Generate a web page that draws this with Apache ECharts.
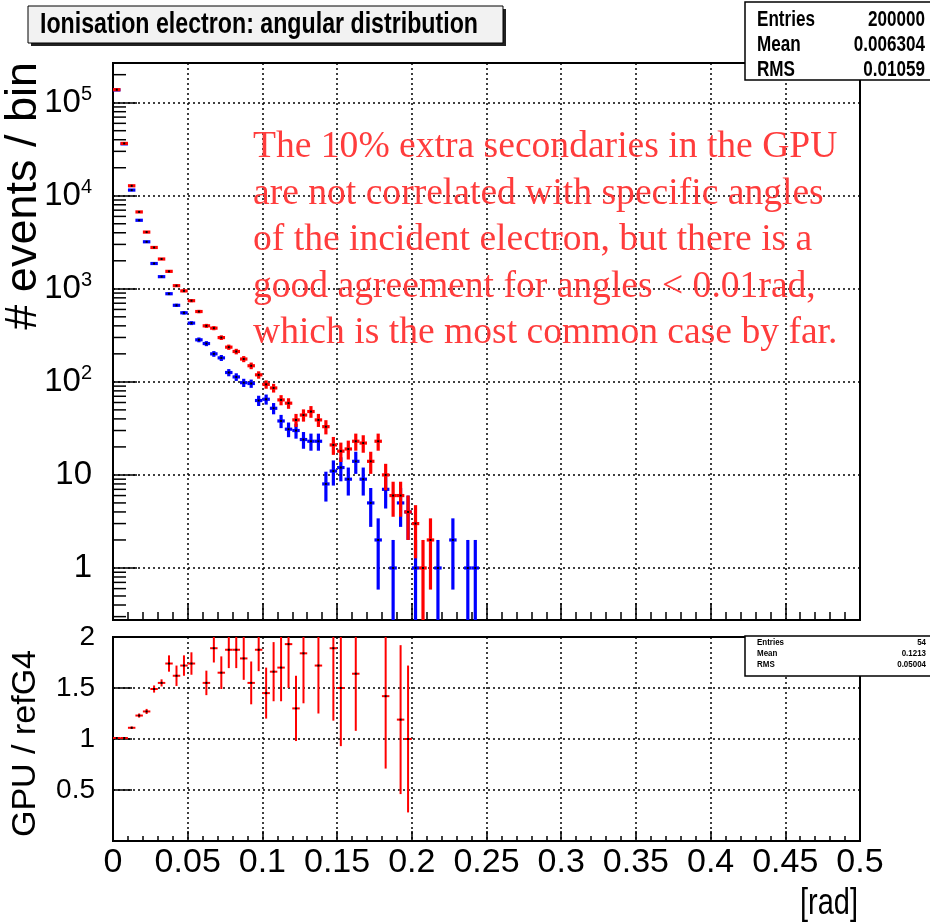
<!DOCTYPE html>
<html>
<head>
<meta charset="utf-8">
<script src="https://cdn.jsdelivr.net/npm/echarts@6/dist/echarts.min.js"></script>
<style>
  html, body { margin: 0; padding: 0; background: #fff; }
  #chart { width: 930px; height: 922px; }
</style>
</head>
<body>
<div id="chart"></div>
<script>
// Histogram data: 0.005 rad bins starting at 0
const binWidth = 0.005
// GPU (red) counts per bin
const gpuCounts = [138000, 36500, 12800, 6700, 4070, 2780, 2090, 1540, 1080, 950,
  745, 570, 400, 378, 299, 236, 212, 176, 149, 119,
  94, 86, 64, 59, 39, 44, 48, 39, 33, 21,
  18, 19, 23, 22, 14, 23, 10, 6, 6, 4,
  3, 1, 2]
// reference Geant4 (blue) counts per bin
const refCounts = [137000, 36100, 11500, 5450, 3200, 1870, 1350, 885, 665, 552,
  428, 283, 258, 200, 181, 126, 113, 98, 96, 63,
  65, 52, 38, 31, 30, 24, 23, 23, 8, 11,
  12, 9, 14, 9, 5, 2, 7, 1, 5, 4,
  1, 0, 0, 1, 0, 2, 0, 1, 1]
// GPU / refG4 ratio per bin (null = outside the 0..2 range or undefined)
const ratioValues = [1.01, 1.01, 1.11, 1.23, 1.27, 1.49, 1.55, 1.74, 1.62, 1.72,
  1.74, null, 1.55, 1.89, 1.65, 1.875, 1.875, 1.79, 1.55, 1.875,
  1.45, 1.66, 1.70, 1.93, 1.30, 1.84, null, 1.72, null, 1.89,
  1.50, null, 1.64, null, null, null, 1.42, null, 1.19, 1.00]
const ratioErrors = [0.005, 0.005, 0.012, 0.02, 0.025, 0.035, 0.035, 0.08, 0.1, 0.1,
  0.11, null, 0.12, 0.14, 0.16, 0.18, 0.18, 0.21, 0.21, 0.21,
  0.25, 0.29, 0.33, 0.43, 0.32, 0.49, null, 0.47, null, 0.71,
  0.57, null, 0.56, null, null, null, 0.71, null, 0.73, 0.72]

const statsMain = [['Entries', '200000'], ['Mean', '0.006304'], ['RMS', '0.01059']]
const statsRatio = [['Entries', '54'], ['Mean', '0.1213'], ['RMS', '0.05004']]
const noteLines = [
  'The 10% extra secondaries in the GPU',
  'are not correlated with specific angles',
  'of the incident electron, but there is a',
  'good agreement for angles < 0.01rad,',
  'which is the most common case by far.'
]

const yMin = 0.276
const yMax = 2.67e5
const SANS = "'Liberation Sans', Arial, Helvetica, sans-serif"
const SERIF = "'Liberation Serif', 'Times New Roman', serif"

// horizontal squeeze so that a text of a given font takes the wanted width
const measureCtx = document.createElement('canvas').getContext('2d')
function squeeze (text, font, wantedWidth) {
  measureCtx.font = font
  return wantedWidth / measureCtx.measureText(text).width
}

function histPoints (counts) {
  const pts = []
  counts.forEach(function (n, i) {
    if (n > 0) pts.push([(i + 0.5) * binWidth, n, Math.sqrt(n)])
  })
  return pts
}

function ratioPoints () {
  const pts = []
  ratioValues.forEach(function (r, i) {
    if (r !== null) pts.push([(i + 0.5) * binWidth, r, ratioErrors[i]])
  })
  return pts
}

// error cross: vertical error bar, horizontal bin-width bar, small black marker
function crossRenderer (color, width, lowFloor) {
  return function (params, api) {
    const x = api.value(0)
    const y = api.value(1)
    const e = api.value(2)
    const c = api.coord([x, y])
    const top = api.coord([x, y + e])
    const bot = api.coord([x, Math.max(y - e, lowFloor)])
    const left = api.coord([x - binWidth / 2, y])
    const right = api.coord([x + binWidth / 2, y])
    return {
      type: 'group',
      children: [
        { type: 'line', shape: { x1: c[0], y1: top[1], x2: c[0], y2: bot[1] }, style: { stroke: color, lineWidth: width } },
        { type: 'line', shape: { x1: left[0], y1: c[1], x2: right[0], y2: c[1] }, style: { stroke: color, lineWidth: width } },
        { type: 'rect', shape: { x: c[0] - 1, y: c[1] - 1, width: 2, height: 2 }, style: { fill: '#000' } }
      ]
    }
  }
}

// log-axis minor ticks at 2..9 x 10^k
const minorLogTicks = []
for (let k = -1; k <= 5; k++) {
  for (let m = 2; m <= 9; m++) {
    const v = m * Math.pow(10, k)
    if (v > yMin && v < yMax) minorLogTicks.push([0, v])
  }
}

function xAxisCommon (grid, showLabels, majorLen, minorLen) {
  return {
    gridIndex: grid,
    type: 'value',
    min: 0,
    max: 0.5,
    interval: 0.05,
    axisLine: { show: true, lineStyle: { color: '#000', width: 2 } },
    axisTick: { show: true, inside: true, length: majorLen, lineStyle: { color: '#000', width: 1.5 } },
    minorTick: { show: true, splitNumber: 5, length: minorLen, lineStyle: { color: '#000', width: 1.5 } },
    splitLine: { show: true, lineStyle: { color: '#000', type: [2, 3], width: 1.5 } },
    axisLabel: {
      show: showLabels,
      color: '#000',
      fontFamily: SANS,
      fontSize: 34,
      margin: 5
    }
  }
}

const chart = echarts.init(document.getElementById('chart'), null, { renderer: 'canvas', width: 930, height: 922 })

const titleFont = 'bold 30px ' + SANS
const statsFont = 'bold 22px ' + SANS
const statsScale = squeeze('Entries', statsFont, 58)
const smallStatsFont = 'bold 9px ' + SANS
const smallScale = squeeze('Entries', smallStatsFont, 27)

const graphics = [
  // title box
  { type: 'rect', shape: { x: 31, y: 9, width: 475, height: 37 }, style: { fill: '#222' } },
  { type: 'rect', shape: { x: 28, y: 6, width: 475, height: 37 }, style: { fill: '#f2f2f2', stroke: '#000', lineWidth: 1 } },
  {
    type: 'text', x: 259, y: 25, scaleX: squeeze('Ionisation electron: angular distribution', titleFont, 438),
    style: { text: 'Ionisation electron: angular distribution', font: titleFont, fill: '#000', align: 'center', verticalAlign: 'middle' }
  },
  // stats boxes
  { type: 'rect', z: 100, shape: { x: 745, y: 2, width: 190, height: 78 }, style: { fill: '#fff', stroke: '#000', lineWidth: 1.5 } },
  { type: 'rect', z: 100, shape: { x: 745, y: 636, width: 190, height: 40 }, style: { fill: '#fff', stroke: '#000', lineWidth: 1.5 } },
  // axis titles
  { type: 'text', x: 24, y: 62, rotation: Math.PI / 2, style: { text: '# events / bin', fontFamily: SANS, fontSize: 45, fill: '#000', align: 'right', verticalAlign: 'middle' } },
  { type: 'text', x: 26, y: 650, rotation: Math.PI / 2, style: { text: 'GPU / refG4', fontFamily: SANS, fontSize: 34, fill: '#000', align: 'right', verticalAlign: 'middle' } },
  {
    type: 'text', x: 858, y: 904, scaleX: squeeze('[rad]', '36px ' + SANS, 58),
    style: { text: '[rad]', font: '36px ' + SANS, fill: '#000', align: 'right', verticalAlign: 'middle' }
  },
  // red note
  {
    type: 'text', z: 50, x: 253, y: 124,
    style: { text: noteLines.join('\n'), fontFamily: SERIF, fontSize: 37.6, lineHeight: 46.5, fill: '#ff3c3c', align: 'left', verticalAlign: 'top' }
  }
]
statsMain.forEach(function (row, i) {
  graphics.push({ type: 'text', z: 101, x: 757, y: 20 + i * 25, scaleX: statsScale, style: { text: row[0], font: statsFont, fill: '#000', align: 'left', verticalAlign: 'middle' } })
  graphics.push({ type: 'text', z: 101, x: 925, y: 20 + i * 25, scaleX: statsScale, style: { text: row[1], font: statsFont, fill: '#000', align: 'right', verticalAlign: 'middle' } })
})
statsRatio.forEach(function (row, i) {
  graphics.push({ type: 'text', z: 101, x: 757, y: 643 + i * 11, scaleX: smallScale, style: { text: row[0], font: smallStatsFont, fill: '#000', align: 'left', verticalAlign: 'middle' } })
  graphics.push({ type: 'text', z: 101, x: 926, y: 643 + i * 11, scaleX: smallScale, style: { text: row[1], font: smallStatsFont, fill: '#000', align: 'right', verticalAlign: 'middle' } })
})

const option = {
  animation: false,
  backgroundColor: '#fff',
  grid: [
    { left: 113, top: 63, width: 747, height: 557, show: true, borderColor: '#000', borderWidth: 2, backgroundColor: 'transparent' },
    { left: 113, top: 637, width: 747, height: 204, show: true, borderColor: '#000', borderWidth: 2, backgroundColor: 'transparent' }
  ],
  xAxis: [
    xAxisCommon(0, false, 17, 8),
    xAxisCommon(1, true, 10, 5)
  ],
  yAxis: [
    {
      gridIndex: 0,
      type: 'log',
      logBase: 10,
      min: yMin,
      max: yMax,
      axisLine: { show: true, lineStyle: { color: '#000', width: 2 } },
      axisTick: { show: true, inside: true, length: 24, lineStyle: { color: '#000', width: 1.5 } },
      splitLine: { show: true, lineStyle: { color: '#000', type: [2, 3], width: 1.5 } },
      axisLabel: {
        color: '#000',
        margin: 21,
        showMinLabel: false,
        showMaxLabel: false,
        formatter: function (v) {
          const p = Math.round(Math.log10(v))
          if (Math.abs(Math.log10(v) - p) > 1e-6) return ''
          if (p === 0) return '{b|1}'
          if (p === 1) return '{b|10}'
          return '{b|10}{s|' + p + '}'
        },
        rich: {
          b: { fontFamily: SANS, fontSize: 33, color: '#000', lineHeight: 36 },
          s: { fontFamily: SANS, fontSize: 20, color: '#000', verticalAlign: 'top', lineHeight: 20 }
        }
      }
    },
    {
      gridIndex: 1,
      type: 'value',
      min: 0,
      max: 2,
      interval: 0.5,
      axisLine: { show: true, lineStyle: { color: '#000', width: 2 } },
      axisTick: { show: true, inside: true, length: 19, lineStyle: { color: '#000', width: 1.5 } },
      splitLine: { show: true, lineStyle: { color: '#000', type: [2, 3], width: 1.5 } },
      axisLabel: { color: '#000', fontFamily: SANS, fontSize: 28, margin: 18, showMinLabel: false }
    }
  ],
  series: [
    {
      type: 'custom',
      name: 'minor ticks',
      xAxisIndex: 0,
      yAxisIndex: 0,
      silent: true,
      clip: true,
      data: minorLogTicks,
      encode: { x: 0, y: 1 },
      renderItem: function (params, api) {
        const p = api.coord([api.value(0), api.value(1)])
        return { type: 'line', shape: { x1: p[0], y1: p[1], x2: p[0] + 13, y2: p[1] }, style: { stroke: '#000', lineWidth: 1.5 } }
      }
    },
    {
      type: 'custom',
      name: 'refG4',
      xAxisIndex: 0,
      yAxisIndex: 0,
      clip: true,
      data: histPoints(refCounts),
      encode: { x: 0, y: 1 },
      renderItem: crossRenderer('#0000ff', 3.2, yMin * 0.5)
    },
    {
      type: 'custom',
      name: 'GPU',
      xAxisIndex: 0,
      yAxisIndex: 0,
      clip: true,
      data: histPoints(gpuCounts),
      encode: { x: 0, y: 1 },
      renderItem: crossRenderer('#ff0000', 3.2, yMin * 0.5)
    },
    {
      type: 'custom',
      name: 'ratio',
      xAxisIndex: 1,
      yAxisIndex: 1,
      clip: true,
      data: ratioPoints(),
      encode: { x: 0, y: 1 },
      renderItem: crossRenderer('#ff0000', 2, -1)
    }
  ],
  graphic: graphics
}

chart.setOption(option)
</script>
</body>
</html>
